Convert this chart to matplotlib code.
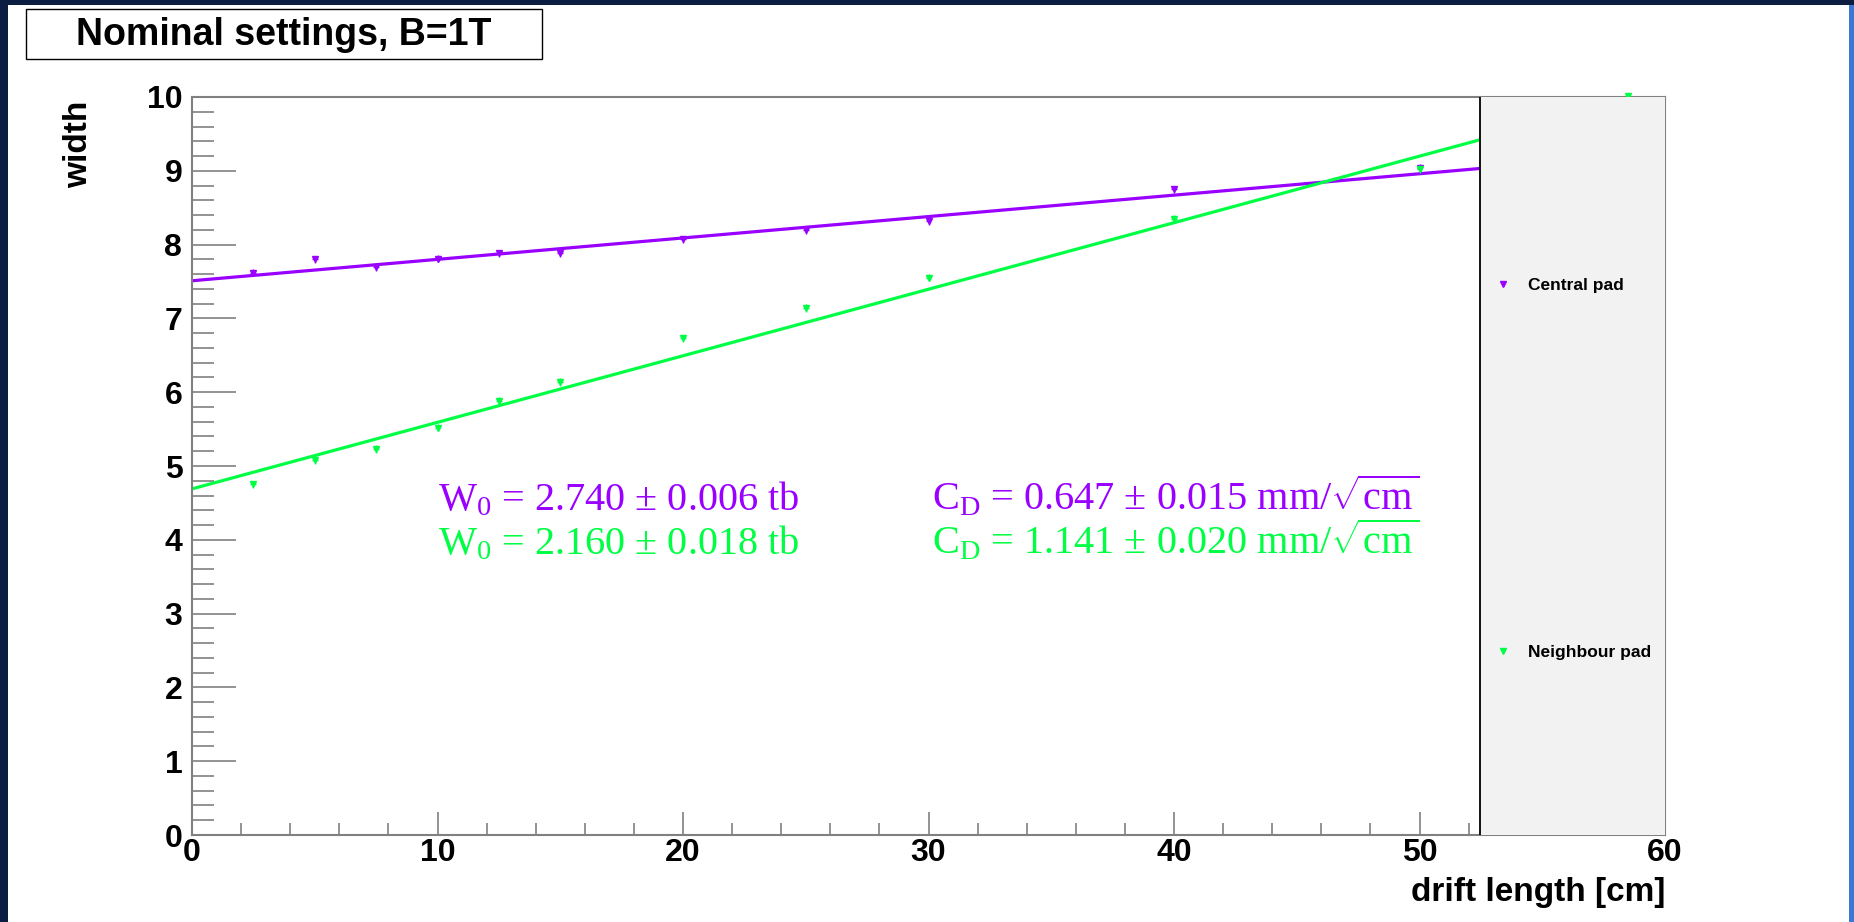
import matplotlib
matplotlib.use("Agg")
import matplotlib.pyplot as plt
from matplotlib.patches import Rectangle
from matplotlib.ticker import MultipleLocator

plt.rcParams["font.family"] = ["Liberation Sans", "DejaVu Sans"]
plt.rcParams["mathtext.fontset"] = "custom"
plt.rcParams["mathtext.rm"] = "Liberation Serif"
plt.rcParams["mathtext.it"] = "Liberation Serif:italic"
plt.rcParams["mathtext.bf"] = "Liberation Serif:bold"

# measured widths vs drift length
drift = [2.5, 5, 7.5, 10, 12.5, 15, 20, 25, 30, 40, 50]
central = [7.62, 7.80, 7.69, 7.81, 7.88, 7.88, 8.07, 8.20, 8.32, 8.75, 9.04]
neigh_drift = [2.5, 5, 7.5, 10, 12.5, 15, 20, 25, 30, 40, 50, 58.5]
neighbour = [4.75, 5.08, 5.23, 5.52, 5.88, 6.14, 6.73, 7.14, 7.55, 8.35, 9.02, 10.02]

# fitted straight lines (end points)
fit_x = [0, 60]
central_fit = [7.51, 9.25]
neighbour_fit = [4.69, 10.10]

series_labels = ["Central pad", "Neighbour pad"]
w0_text = [r"W$_\mathrm{0}$ = 2.740 ± 0.006 tb", r"W$_\mathrm{0}$ = 2.160 ± 0.018 tb"]
cd_text = [r"C$_\mathrm{D}$ = 0.647 ± 0.015 mm/$\sqrt{\mathrm{cm}}$",
           r"C$_\mathrm{D}$ = 1.141 ± 0.020 mm/$\sqrt{\mathrm{cm}}$"]

purple = "#9900ff"
green = "#00ff44"
grey = "#808080"

fig = plt.figure(figsize=(18.54, 9.22), dpi=100)
fig.patch.set_facecolor("#0b1d40")
# slide background: white area and blue strip on the right
fig.add_artist(Rectangle((8 / 1854, 0), (1849 - 8) / 1854, 917 / 922,
                         transform=fig.transFigure, facecolor="white",
                         edgecolor="none", zorder=0))
fig.add_artist(Rectangle((1849 / 1854, 0), 5 / 1854, 917 / 922,
                         transform=fig.transFigure, facecolor="#3b78d6",
                         edgecolor="none", zorder=0))

ax = fig.add_axes([192 / 1854, 1 - 835 / 922, 1473 / 1854, 738 / 922])
ax.set_facecolor("white")

ax.plot(fit_x, central_fit, color=purple, lw=2.3, zorder=2)
ax.plot(fit_x, neighbour_fit, color=green, lw=2.3, zorder=2)

h1 = ax.errorbar(drift, central, xerr=0.12, yerr=0.05, fmt="v", ms=5,
                 color=purple, elinewidth=1, capsize=0, zorder=3)
h2 = ax.errorbar(neigh_drift, neighbour, xerr=0.12, yerr=0.05, fmt="v", ms=5,
                 color=green, elinewidth=1, capsize=0, zorder=3)
h2.lines[0].set_clip_on(False)

ax.set_xlim(0, 60)
ax.set_ylim(0, 10)
ax.xaxis.set_major_locator(MultipleLocator(10))
ax.xaxis.set_minor_locator(MultipleLocator(2))
ax.yaxis.set_major_locator(MultipleLocator(1))
ax.yaxis.set_minor_locator(MultipleLocator(0.2))

ax.tick_params(axis="both", which="both", direction="in", color=grey,
               top=False, right=False)
ax.tick_params(axis="y", which="major", length=31.5, width=1.2, pad=7,
               labelsize=23)
ax.tick_params(axis="y", which="minor", length=15.8, width=1.2)
ax.tick_params(axis="x", which="major", length=16.5, width=1.2, pad=2,
               labelsize=23)
ax.tick_params(axis="x", which="minor", length=8.6, width=1.2)
for lab in ax.get_xticklabels() + ax.get_yticklabels():
    lab.set_fontweight("bold")
for sp in ax.spines.values():
    sp.set_color(grey)
    sp.set_linewidth(1.5)

xl = ax.set_xlabel("drift length [cm]", fontsize=24, fontweight="bold")
xl.set_ha("right")
xl.set_va("top")
ax.xaxis.set_label_coords(1.0, -0.057)
yl = ax.set_ylabel("width", fontsize=24, fontweight="bold")
yl.set_rotation_mode("anchor")
yl.set_ha("right")
yl.set_va("center")
ax.yaxis.set_label_coords(-0.077, 0.995)

# fit results
ax.text(10.04, 4.40, w0_text[0], color=purple, fontsize=29,
        family="Liberation Serif", va="baseline")
ax.text(10.04, 3.80, w0_text[1], color=green, fontsize=29,
        family="Liberation Serif", va="baseline")
ax.text(30.13, 4.40, cd_text[0], color=purple, fontsize=29,
        family="Liberation Serif", va="baseline")
ax.text(30.13, 3.80, cd_text[1], color=green, fontsize=29,
        family="Liberation Serif", va="baseline")

# legend panel
x0 = (1480 - 192) / 1473
ax.add_patch(Rectangle((x0, 0), 1 - x0, 1, transform=ax.transAxes,
                       facecolor="#f2f2f2", edgecolor="none", zorder=4))
ax.plot([x0, x0], [0, 1], transform=ax.transAxes, color="black", lw=1.3,
        zorder=4.5)
leg = ax.legend(handles=[h1.lines[0], h2.lines[0]], labels=series_labels,
                loc="center left", bbox_to_anchor=(0.8841, 0.496),
                frameon=False, prop={"weight": "bold", "size": 12.5},
                labelspacing=20.3, handlelength=1.0, handletextpad=0.95,
                borderpad=0, borderaxespad=0)
leg.set_zorder(6)

# title box
fig.add_artist(Rectangle((26 / 1854, 1 - 59 / 922), 516 / 1854, 50 / 922,
                         transform=fig.transFigure, facecolor="white",
                         edgecolor="black", lw=1, zorder=1))
fig.text(284 / 1854, 1 - 35 / 922, "Nominal settings, B=1T", fontsize=27,
         fontweight="bold", ha="center", va="center", zorder=2)

fig.savefig("out.png", dpi=100)
